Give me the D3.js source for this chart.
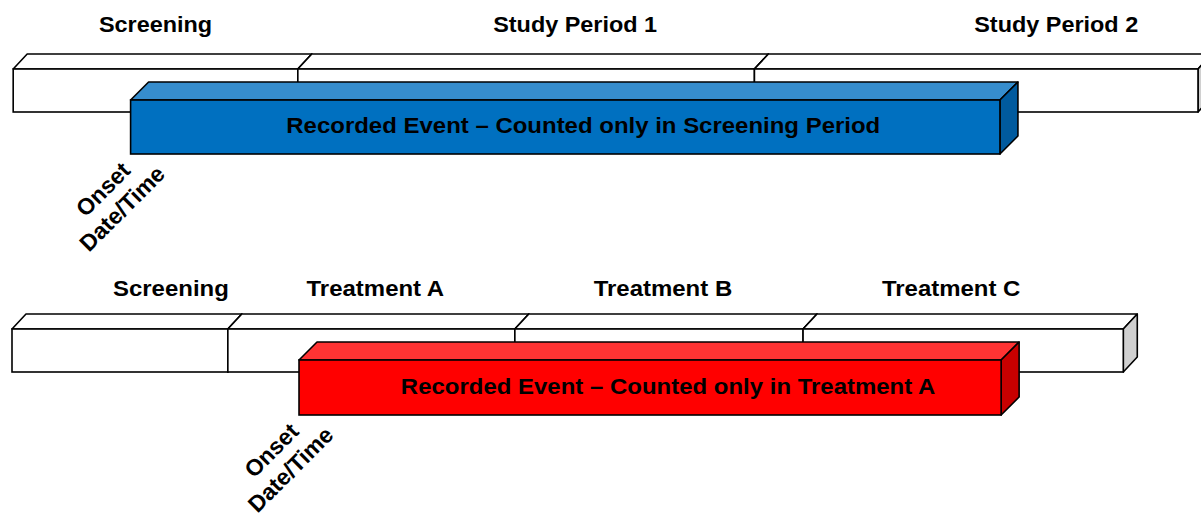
<!DOCTYPE html>
<html>
<head>
<meta charset="utf-8">
<script src="https://cdn.jsdelivr.net/npm/d3@7"></script>
<style>
  body { margin: 0; background: #fff; }
  text { font-family: "Liberation Sans", Arial, sans-serif; font-weight: bold; }
</style>
</head>
<body>
<div id="chart"></div>
<script>
// ---- data (timeline units, 0..100) ----
var topPhases = ["Screening", "Study Period 1", "Study Period 2"];
var topBounds = [0.1, 24.1, 62.6, 100];
var topEvent = [10.0, 83.3];
var topEventLabel = "Recorded Event \u2013 Counted only in Screening Period";

var bottomPhases = ["Screening", "Treatment A", "Treatment B", "Treatment C"];
var bottomBounds = [0, 18.2, 42.4, 66.7, 93.7];
var bottomEvent = [24.2, 83.4];
var bottomEventLabel = "Recorded Event \u2013 Counted only in Treatment A";

var onsetLines = ["Onset", "Date/Time"];

// ---- layout ----
var W = 1201, H = 515;
var x = d3.scaleLinear().domain([0, 100]).range([12, 1198]);
var stretch = 1.09; // the picture's text is a bit wide

var panels = [
  { phases: topPhases, bounds: topBounds, event: topEvent, label: topEventLabel,
    headY: 32, headSize: 21.5, labelShift: [0, 49, 80], boxY: 69, eventY: 100, eventH: 54,
    colors: { front: "#0070C0", top: "#368DCD", side: "#005A9E" } },
  { phases: bottomPhases, bounds: bottomBounds, event: bottomEvent, label: bottomEventLabel,
    headY: 296, headSize: 22, labelShift: [51, 4, 4, -12], boxY: 329, eventY: 360, eventH: 55,
    colors: { front: "#FF0000", top: "#FF3333", side: "#C80000" } }
];
var boxH = 43, boxDx = 14, boxDy = 15, evD = 18;

var svg = d3.select("#chart").append("svg")
    .attr("width", W)
    .attr("height", H);

function cuboid(g, x0, x1, y, h, dx, dy, c) {
  var stroke = "#000", sw = 1.6;
  // top face
  g.append("path")
    .attr("d", "M" + x0 + "," + y + "L" + (x0 + dx) + "," + (y - dy) + "L" + (x1 + dx) + "," + (y - dy) + "L" + x1 + "," + y + "Z")
    .attr("fill", c.top).attr("stroke", stroke).attr("stroke-width", sw).attr("stroke-linejoin", "round");
  // side face
  g.append("path")
    .attr("d", "M" + x1 + "," + y + "L" + (x1 + dx) + "," + (y - dy) + "L" + (x1 + dx) + "," + (y + h - dy) + "L" + x1 + "," + (y + h) + "Z")
    .attr("fill", c.side).attr("stroke", stroke).attr("stroke-width", sw).attr("stroke-linejoin", "round");
  // front face
  g.append("rect")
    .attr("x", x0).attr("y", y).attr("width", x1 - x0).attr("height", h)
    .attr("fill", c.front).attr("stroke", stroke).attr("stroke-width", sw);
}

// centred text, stretched horizontally
function wideText(g, cx, y, size, str) {
  g.append("text")
    .attr("transform", "translate(" + cx + "," + y + ") scale(" + stretch + ",1)")
    .attr("text-anchor", "middle")
    .attr("font-size", size + "px")
    .attr("fill", "#000")
    .text(str);
}

var white = { front: "#fff", top: "#fff", side: "#D0D0D0" };

panels.forEach(function(p) {
  var g = svg.append("g");

  // phase headers
  p.phases.forEach(function(d, i) {
    var cx = (x(p.bounds[i]) + x(p.bounds[i + 1])) / 2 + p.labelShift[i];
    wideText(g, cx, p.headY, p.headSize, d);
  });

  // phase boxes
  p.phases.forEach(function(d, i) {
    cuboid(g, x(p.bounds[i]), x(p.bounds[i + 1]), p.boxY, boxH, boxDx, boxDy, white);
  });

  // event bar
  var e0 = x(p.event[0]), e1 = x(p.event[1]);
  cuboid(g, e0, e1, p.eventY, p.eventH, evD, evD, p.colors);
  wideText(g, (e0 + evD + e1 + evD) / 2, p.eventY + p.eventH / 2 + 6, 22, p.label);

  // onset label
  var ot = g.append("text")
    .attr("transform", "translate(" + (e0 - 22) + "," + (p.eventY + p.eventH + 41) + ") rotate(-45)")
    .attr("text-anchor", "middle")
    .attr("font-size", "23px")
    .attr("fill", "#000");
  ot.selectAll("tspan")
    .data(onsetLines)
    .enter().append("tspan")
    .attr("x", 0)
    .attr("dy", function(d, i) { return i === 0 ? 0 : 27; })
    .text(function(d) { return d; });
});
</script>
</body>
</html>
